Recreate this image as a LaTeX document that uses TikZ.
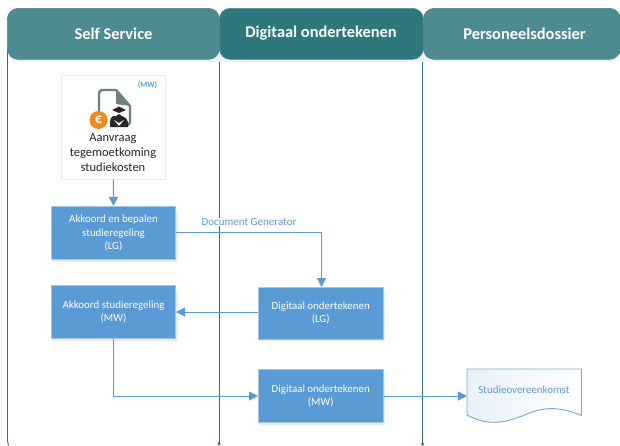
\documentclass[tikz,border=0pt]{standalone}
\usepackage{fontspec}
\setmainfont{Carlito}
\definecolor{laneline}{HTML}{2D7379}
\definecolor{headA}{HTML}{4E8B91}
\definecolor{headB}{HTML}{2E777C}
\definecolor{boxblue}{HTML}{5B9BD5}
\definecolor{boxedge}{HTML}{A9C4DE}
\definecolor{linkblue}{HTML}{5B9BD5}
\definecolor{iconedge}{HTML}{6B8078}
\definecolor{euro}{HTML}{EE8A1D}
\usetikzlibrary{arrows.meta}
\tikzset{
  lane/.style={draw=laneline,line width=0.9pt},
  headbox/.style={rounded corners=11pt,draw=laneline!85,line width=0.7pt},
  headtext/.style={font=\fontsize{16.4}{18}\selectfont\bfseries,text=white,align=center},
  proc/.style={fill=boxblue,draw=boxedge,line width=1pt,text=white,align=center,
    font=\fontsize{10.9}{13.4}\selectfont,minimum width=124pt,inner sep=0pt},
  shade1/.style={fill=boxblue!18,draw=none},
  link/.style={draw=linkblue,line width=1pt,-{Triangle[length=9pt,width=9pt]}},
  lbl/.style={text=linkblue,font=\fontsize{11}{12}\selectfont,inner sep=0pt},
}
\begin{document}
\begin{tikzpicture}[x=1pt,y=-1pt]
\useasboundingbox (0,0) rectangle (620,445);
\fill[white] (0,0) rectangle (620,445);
% lanes
\draw[lane] (7.5,50) -- (7.5,441) to[out=90,in=-120] (9,445);
\draw[lane] (219,50) -- (219,445);
\draw[lane] (217.5,445) to[out=-60,in=90] (219,442) to[out=90,in=-120] (220.5,445);
\draw[lane] (422.5,50) -- (422.5,445);
\draw[lane] (421,445) to[out=-60,in=90] (422.5,442) to[out=90,in=-120] (424,445);
% header shadows
\fill[boxblue!12] (12,50) rectangle (615,62);
% headers
\node[headbox,fill=headA,minimum width=212pt,minimum height=51pt,inner sep=0pt,anchor=north west] (h1) at (7,8) {};
\node[headbox,fill=headA,minimum width=197pt,minimum height=51pt,inner sep=0pt,anchor=north west] (h3) at (423,8) {};
\node[headbox,fill=headB,minimum width=204pt,minimum height=51pt,inner sep=0pt,anchor=north west] (h2) at (219,8) {};
\node[headtext] at (113.5,33.5) {Self Service};
\node[headtext] at (321,33.5) {Digitaal ondertekenen};
\node[headtext] at (524.5,33.5) {Personeelsdossier};
% start tile
\node[draw=black!8,fill=white,line width=0.6pt,minimum width=104pt,minimum height=104pt,inner sep=0pt,anchor=north west] (start) at (61,75) {};
\node[text=boxblue,font=\bfseries\fontsize{8}{8}\selectfont,inner sep=0pt] (mw) at (147.5,85.5) {(MW)};
\node[text=black!85,align=center,font=\fontsize{12.5}{14.6}\selectfont,inner sep=0pt] (starttext) at (113,152.5) {Aanvraag\\tegemoetkoming\\studiekosten};
% icon
\draw[iconedge,line width=2.4pt,line join=round] (99,112) -- (99,94) to[out=90,in=180] (102,90) -- (116,90) -- (130,106) -- (130,122) to[out=-90,in=0] (127,125) -- (118,125);
\fill[iconedge] (116,89) -- (116,104) -- (131,106) -- cycle;
\fill[black!85] (110,127) -- (110,122) to[out=80,in=200] (113,116) -- (122,116) to[out=-20,in=100] (128,122) -- (128,127) -- cycle;
\fill[black!85] (119,118.5) ellipse (3.2pt and 4.3pt);
\fill[black!85] (112,110) -- (119,106.5) -- (126,110) -- (119,113) -- cycle;
\fill[white] (114,120) -- (119,126) -- (124,120) -- (119,123) -- cycle;
\fill[euro] (98.5,120) circle (9pt);
\node[text=white,font=\bfseries\fontsize{14}{14}\selectfont,inner sep=0pt] (eur) at (98.5,120) {€};
% processes
\fill[shade1] (52,212) rectangle (178,262);
\fill[shade1] (52,291) rectangle (178,341);
\fill[shade1] (259,292) rectangle (385,341);
\fill[shade1] (259,374) rectangle (385,425);
\node[proc,minimum height=53pt,anchor=north west] (a) at (51,206) {Akkoord en bepalen\\studieregeling\\(LG)};
\node[proc,minimum height=53pt,anchor=north west] (b) at (51,285) {Akkoord studieregeling\\(MW)};
\node[proc,minimum height=51.5pt,minimum width=124.5pt,anchor=north west] (c) at (258,287) {Digitaal ondertekenen\\(LG)};
\node[proc,minimum height=53pt,minimum width=124.5pt,anchor=north west] (d) at (258,369) {Digitaal ondertekenen\\(MW)};
% document
\path[left color=boxblue!14,right color=white,draw=boxblue!85,line width=0.9pt]
  (467,369) -- (581.5,369) -- (581.5,415.5) .. controls (568,410) and (556,407.5) .. (545,409) .. controls (528,411) and (515,422) .. (495,422.3) .. controls (483,422.5) and (475,419) .. (467,415) -- cycle;
\node[text=boxblue,font=\fontsize{10.9}{12}\selectfont,inner sep=0pt] (e) at (524,389.5) {Studieovereenkomst};
\coordinate (ein) at (467,396);
% connectors
\draw[link] (start.south) -- (a.north);
\draw[link] (a.east |- 0,232.5) -| (c.north -| 321.5,0);
\draw[link] (c.west |- 0,312) -- (b.east |- 0,312);
\draw[link] (b.south) |- (d.west |- 0,396);
\draw[link] (d.east |- 0,396) -- (ein);
\node[lbl,fill=white,inner xsep=0pt] (g) at (249,222) {Document Generator};
\end{tikzpicture}
\end{document}
